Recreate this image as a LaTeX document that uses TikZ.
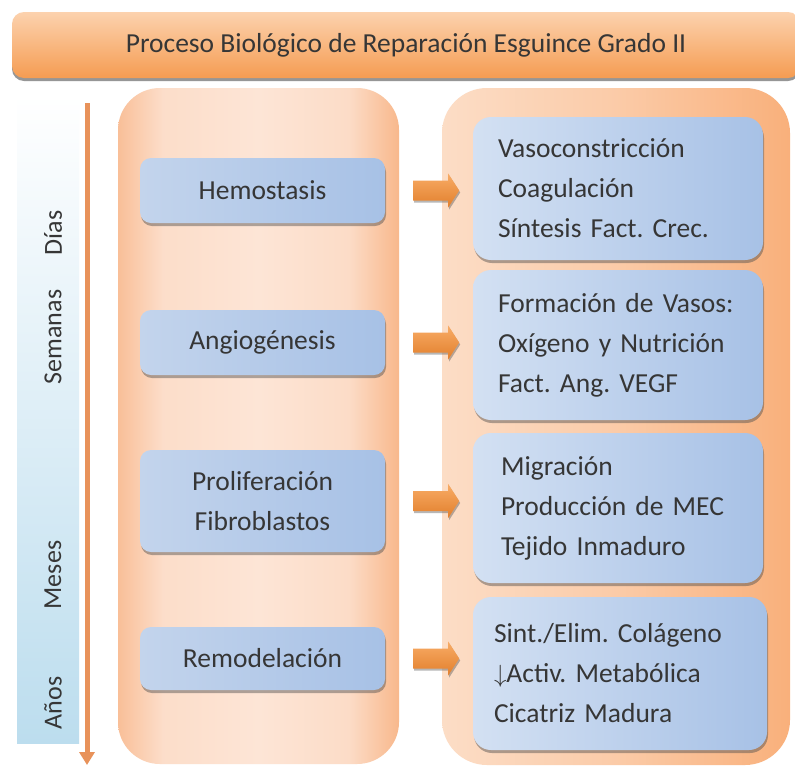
\documentclass[tikz,border=0pt]{standalone}
\usepackage{fontspec}
\setmainfont{Carlito}
\usetikzlibrary{shadows,arrows.meta,calc}
\definecolor{txt}{HTML}{363636}
\definecolor{ttop}{HTML}{FCD2AE}
\definecolor{tbot}{HTML}{F59C52}
\definecolor{lpl}{HTML}{F9BF98}
\definecolor{lpm}{HTML}{FDE5D6}
\definecolor{lpr}{HTML}{F8B88C}
\definecolor{rpl}{HTML}{FCDDC6}
\definecolor{rpr}{HTML}{F9B07B}
\definecolor{bl}{HTML}{C3D4EC}
\definecolor{bm}{HTML}{E6EEF8}
\definecolor{br}{HTML}{A7C1E6}
\definecolor{band}{HTML}{BCDDEE}
\definecolor{tline}{HTML}{E8925A}
\definecolor{atop}{HTML}{F8AC66}
\definecolor{abot}{HTML}{E27F2C}
\pgfdeclarehorizontalshading{lpshade}{100bp}{color(0bp)=(lpl); color(25bp)=(lpl); color(33bp)=(lpm!80!lpl); color(50bp)=(lpm); color(66bp)=(lpm!80!lpr); color(75bp)=(lpr); color(100bp)=(lpr)}
\pgfdeclarehorizontalshading{rpshade}{100bp}{color(0bp)=(rpl); color(25bp)=(rpl); color(50bp)=(rpl!60!rpr); color(75bp)=(rpr); color(100bp)=(rpr)}
\begin{document}
\frenchspacing
\begin{tikzpicture}[x=1pt,y=-1pt,
  every node/.style={text=txt, font=\fontsize{27.5}{40}\selectfont\frenchspacing},
  titlebar/.style={rounded corners=12pt, top color=ttop, bottom color=tbot, minimum width=788pt, minimum height=66pt, inner sep=0pt,
    drop shadow={shadow xshift=0pt, shadow yshift=-3pt, opacity=0.55, fill=black!75}},
  panel/.style={rounded corners=42pt, inner sep=0pt},
  lbox/.style={rounded corners=11pt, left color=bl, middle color=bm, right color=br, minimum width=245pt, inner sep=0pt, align=center,
    drop shadow={shadow xshift=1pt, shadow yshift=-3pt, opacity=0.45, fill=black!70}},
  rbox/.style={rounded corners=18pt, left color=bm!70!br, middle color=bm, right color=br, minimum width=290pt, inner xsep=25pt, inner ysep=0pt,
    text width=240pt, align=left,
    drop shadow={shadow xshift=1pt, shadow yshift=-3pt, opacity=0.45, fill=black!70}},
  tlabel/.style={rotate=90, font=\fontsize{26}{30}\selectfont},
  blockarrow/.style={top color=atop, bottom color=abot,
    drop shadow={shadow xshift=1pt, shadow yshift=-2pt, opacity=0.4, fill=black!70}}
]
\useasboundingbox[fill=white] (0,0) rectangle (795,769);

% title
\node[titlebar] (title) at (406,45) {Proceso Biológico de Reparación Esguince Grado II};

% time band and arrow
\shade[top color=white, middle color=band!55, bottom color=band] (17,95) rectangle (79,743);
\coordinate (tTop) at (87,103);
\coordinate (tBot) at (87,765);
\draw[line width=5pt, tline, -{Triangle[width=15pt,length=13pt]}] (tTop) -- (tBot);
\node[tlabel] (dias) at (53,233) {Días};
\node[tlabel] (sem) at (53,337) {Semanas};
\node[tlabel] (mes) at (53,575) {Meses};
\node[tlabel] (anos) at (53,703) {Años};

% panels
\node[panel, shading=lpshade, minimum width=281pt, minimum height=676pt] (lp) at (258.5,426) {};
\node[panel, shading=rpshade, minimum width=348pt, minimum height=677pt, rounded corners=45pt] (rp) at (616,426.5) {};

% left boxes
\node[lbox, minimum height=65pt] (L1) at (262.5,190.5) {Hemostasis};
\node[lbox, minimum height=65pt] (L2) at (262.5,342.5) {Angiogénesis};
\node[lbox, minimum height=102pt] (L3) at (262.5,501) {Proliferación\\Fibroblastos};
\node[lbox, minimum height=63pt] (L4) at (262.5,658.5) {Remodelación};

% right boxes
\node[rbox, minimum height=143pt] (R1) at (618,188.5) {Vasoconstricción\\Coagulación\\Síntesis Fact. Crec.};
\node[rbox, minimum height=150pt] (R2) at (618,345) {Formación de Vasos:\\Oxígeno y Nutrición\\Fact. Ang. VEGF};
\node[rbox, minimum height=150pt, inner xsep=28pt, text width=234pt] (R3) at (618,508) {Migración\\Producción de MEC\\Tejido Inmaduro};
\node[rbox, minimum height=153pt, minimum width=294pt, inner xsep=21pt, text width=252pt] (R4) at (620,673.5) {Sint./Elim. Colágeno\\$\downarrow$Activ. Metabólica\\Cicatriz Madura};

% block arrows
\foreach \i in {1,...,4}{
  \path (L\i.east) ++(28,0) coordinate (s\i);
  \shade[blockarrow] ($(s\i)+(0,-10)$) -- ++(35,0) -- ++(0,-7) -- ++(11,17) -- ++(-11,17) -- ++(0,-7) -- ++(-35,0) -- cycle;
}
\end{tikzpicture}
\end{document}
